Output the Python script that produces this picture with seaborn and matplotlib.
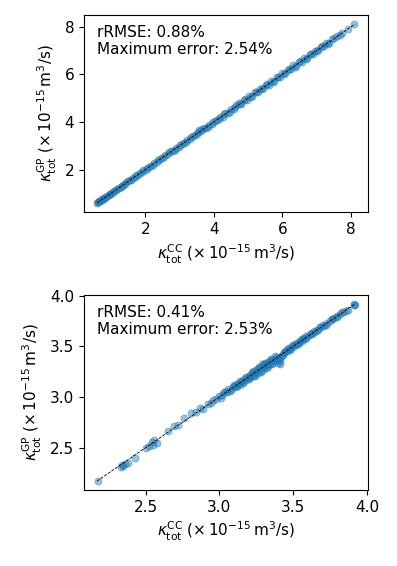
import matplotlib
matplotlib.use('Agg')
import matplotlib.pyplot as plt
import seaborn as sb
import numpy as np
import pandas as pd

# panel 1 (top): coupled-cluster vs GP prediction
top_cc = [0.60, 0.63, 0.66, 0.70, 0.74, 0.78, 0.83, 0.88, 0.93, 0.98,
          1.04, 1.10, 1.16, 1.22, 1.28, 1.35, 1.42, 1.49, 1.56, 1.63,
          1.70, 1.78, 1.86, 1.94, 2.02, 2.10, 2.18, 2.26, 2.34, 2.42,
          2.50, 2.58, 2.66, 2.74, 2.82, 2.90, 2.98, 3.06, 3.14, 3.22,
          3.30, 3.38, 3.46, 3.54, 3.58, 3.62, 3.70, 3.78, 3.86, 3.94,
          4.02, 4.10, 4.18, 4.26, 4.34, 4.42, 4.50, 4.58, 4.66, 4.72,
          4.80, 4.88, 4.96, 5.04, 5.12, 5.20, 5.28, 5.36, 5.44, 5.52,
          5.60, 5.68, 5.76, 5.84, 5.92, 6.00, 6.08, 6.16, 6.24, 6.32,
          6.40, 6.48, 6.56, 6.64, 6.72, 6.80, 6.88, 6.96, 7.04, 7.12,
          7.20, 7.28, 7.36, 7.44, 7.60, 7.75, 8.10,
          0.62, 0.68, 0.76, 0.86, 0.96, 1.07, 1.19, 1.31, 1.45, 1.59,
          1.74, 1.90, 2.06, 2.22, 2.38, 2.54, 2.70, 2.86, 3.02, 3.18,
          3.34, 3.50, 3.66, 3.82, 3.98, 4.14, 4.30, 4.46, 4.62, 4.76,
          4.92, 5.08, 5.24, 5.40, 5.56, 5.72, 5.88, 6.04, 6.20, 6.36,
          6.52, 6.68, 6.84, 7.00, 7.16, 7.32, 7.50, 7.68, 7.90]
top_gp = [0.59, 0.64, 0.66, 0.71, 0.73, 0.79, 0.82, 0.89, 0.92, 0.99,
          1.03, 1.11, 1.15, 1.23, 1.27, 1.36, 1.41, 1.50, 1.55, 1.64,
          1.69, 1.79, 1.85, 1.96, 2.00, 2.12, 2.16, 2.28, 2.32, 2.44,
          2.48, 2.60, 2.64, 2.77, 2.80, 2.92, 2.96, 3.08, 3.12, 3.25,
          3.27, 3.41, 3.44, 3.57, 3.66, 3.60, 3.73, 3.75, 3.89, 3.91,
          4.05, 4.07, 4.21, 4.23, 4.37, 4.39, 4.54, 4.55, 4.70, 4.78,
          4.77, 4.91, 4.93, 5.08, 5.09, 5.24, 5.25, 5.40, 5.41, 5.56,
          5.57, 5.72, 5.73, 5.88, 5.89, 6.05, 6.04, 6.20, 6.21, 6.40,
          6.37, 6.52, 6.53, 6.68, 6.69, 6.84, 6.86, 7.00, 7.01, 7.15,
          7.18, 7.32, 7.34, 7.47, 7.63, 7.73, 8.12,
          0.63, 0.67, 0.77, 0.85, 0.97, 1.06, 1.20, 1.30, 1.46, 1.58,
          1.75, 1.89, 2.07, 2.21, 2.40, 2.52, 2.72, 2.84, 3.04, 3.16,
          3.36, 3.48, 3.69, 3.80, 4.01, 4.12, 4.33, 4.44, 4.65, 4.74,
          4.95, 5.05, 5.27, 5.37, 5.59, 5.69, 5.91, 6.01, 6.24, 6.33,
          6.55, 6.65, 6.87, 6.97, 7.19, 7.29, 7.52, 7.66, 7.92]
top_rrmse = 0.88
top_maxerr = 2.54

# panel 2 (bottom)
bot_cc = [2.18, 2.33, 2.34, 2.35, 2.36, 2.38, 2.43, 2.50, 2.52, 2.54,
          2.55, 2.56, 2.58, 2.65, 2.69, 2.72, 2.76, 2.81, 2.84, 2.87,
          2.89, 2.92, 2.94, 2.96, 2.98, 3.00, 3.02, 3.03, 3.05, 3.06,
          3.08, 3.09, 3.10, 3.11, 3.12, 3.13, 3.14, 3.15, 3.16, 3.17,
          3.18, 3.19, 3.20, 3.21, 3.21, 3.22, 3.23, 3.24, 3.24, 3.25,
          3.26, 3.27, 3.28, 3.29, 3.30, 3.30, 3.31, 3.32, 3.33, 3.33,
          3.34, 3.35, 3.36, 3.37, 3.38, 3.39, 3.40, 3.41, 3.41, 3.40,
          3.42, 3.43, 3.44, 3.45, 3.46, 3.47, 3.48, 3.49, 3.50, 3.51,
          3.52, 3.53, 3.54, 3.55, 3.56, 3.57, 3.58, 3.59, 3.60, 3.62,
          3.63, 3.64, 3.66, 3.67, 3.68, 3.70, 3.71, 3.73, 3.75, 3.76,
          3.78, 3.80, 3.82, 3.84, 3.86, 3.91, 3.91, 3.92,
          3.01, 3.04, 3.07, 3.10, 3.12, 3.14, 3.16, 3.18, 3.20, 3.22,
          3.24, 3.26, 3.28, 3.30, 3.32, 3.34, 3.36, 3.38, 3.40, 3.42,
          3.44, 3.46, 3.48, 3.50, 3.53, 3.56, 3.59, 3.62, 3.65, 3.68,
          3.72, 3.76, 3.80, 3.83, 3.87, 3.29, 3.31, 3.35, 3.27, 3.23]
bot_gp = [2.17, 2.31, 2.33, 2.32, 2.34, 2.35, 2.40, 2.50, 2.52, 2.56,
          2.53, 2.58, 2.55, 2.66, 2.71, 2.72, 2.79, 2.84, 2.85, 2.89,
          2.88, 2.93, 2.94, 2.97, 2.98, 3.01, 3.02, 3.05, 3.05, 3.08,
          3.07, 3.10, 3.11, 3.10, 3.13, 3.14, 3.12, 3.16, 3.15, 3.18,
          3.17, 3.20, 3.19, 3.22, 3.20, 3.24, 3.21, 3.25, 3.22, 3.27,
          3.24, 3.28, 3.26, 3.30, 3.28, 3.32, 3.30, 3.33, 3.31, 3.35,
          3.33, 3.36, 3.34, 3.38, 3.36, 3.40, 3.34, 3.33, 3.36, 3.39,
          3.41, 3.42, 3.44, 3.45, 3.45, 3.48, 3.47, 3.50, 3.49, 3.52,
          3.51, 3.54, 3.53, 3.56, 3.55, 3.58, 3.57, 3.60, 3.60, 3.62,
          3.62, 3.65, 3.66, 3.66, 3.69, 3.71, 3.70, 3.73, 3.75, 3.77,
          3.78, 3.80, 3.82, 3.84, 3.85, 3.91, 3.92, 3.91,
          2.99, 3.05, 3.06, 3.12, 3.11, 3.16, 3.14, 3.20, 3.18, 3.24,
          3.21, 3.29, 3.25, 3.33, 3.29, 3.37, 3.33, 3.41, 3.37, 3.40,
          3.43, 3.47, 3.46, 3.51, 3.52, 3.57, 3.58, 3.63, 3.64, 3.69,
          3.71, 3.77, 3.79, 3.84, 3.86, 3.33, 3.34, 3.38, 3.30, 3.26]
bot_rrmse = 0.41
bot_maxerr = 2.53

xlab = r'$\kappa_{\mathrm{tot}}^{\mathrm{CC}}$ ($\times\,10^{-15}\,\mathrm{m}^3$/s)'
ylab = r'$\kappa_{\mathrm{tot}}^{\mathrm{GP}}$ ($\times\,10^{-15}\,\mathrm{m}^3$/s)'


def parity(ax, cc, gp, rrmse, maxerr):
    df = pd.DataFrame({'cc': cc, 'gp': gp})
    sb.scatterplot(data=df, x='cc', y='gp', ax=ax, s=26, alpha=0.45,
                   color='C0', edgecolor='C0', linewidth=0.6)
    lo = min(df.cc.min(), df.gp.min())
    hi = max(df.cc.max(), df.gp.max())
    ax.plot([lo, hi], [lo, hi], 'k--', lw=0.6)
    ax.text(0.045, 0.95, 'rRMSE: %.2f%%\nMaximum error: %.2f%%' % (rrmse, maxerr),
            transform=ax.transAxes, va='top', ha='left', fontsize=11)
    ax.set_xlabel(xlab, fontsize=11)
    ax.set_ylabel(ylab, fontsize=11)
    ax.tick_params(labelsize=11)


f = plt.figure(figsize=(3.97, 5.66), dpi=100)
ax1 = f.add_axes([0.2116, 0.6254, 0.7154, 0.348])
ax2 = f.add_axes([0.2116, 0.1343, 0.7154, 0.3445])
parity(ax1, top_cc, top_gp, top_rrmse, top_maxerr)
parity(ax2, bot_cc, bot_gp, bot_rrmse, bot_maxerr)
ax2.set_xticks([2.5, 3.0, 3.5, 4.0])
ax2.set_yticks([2.5, 3.0, 3.5, 4.0])

f.savefig('out.png', dpi=100)
